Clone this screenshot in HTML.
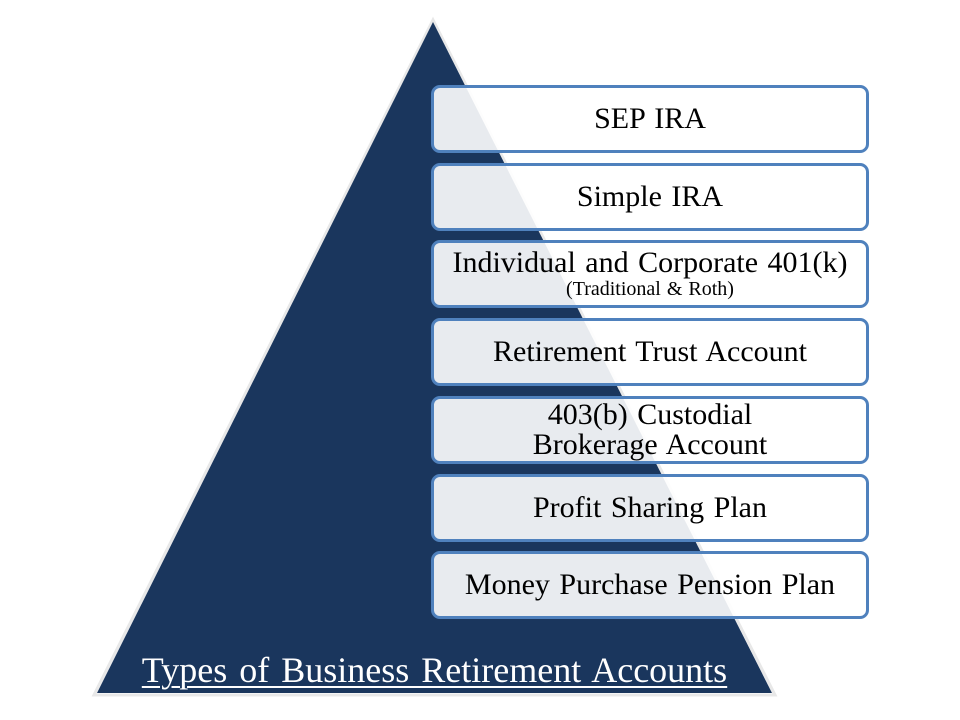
<!DOCTYPE html>
<html><head><style>
body{margin:0;background:#fff;width:960px;height:720px;overflow:hidden;position:relative;font-family:"Liberation Serif",serif}
.b{position:absolute;left:431px;width:438px;height:65px;border:3px solid #4f81bd;border-radius:9px;background:rgba(255,255,255,0.9);box-sizing:border-box;display:flex;flex-direction:column;align-items:center;justify-content:center;font-size:30px;color:#000;text-align:center;line-height:30px;word-spacing:2px}
.t{position:absolute;left:96px;width:677px;top:649px;text-align:center;color:#fff;font-size:36px;text-decoration:underline;text-decoration-thickness:2px;text-underline-offset:4px;word-spacing:3px}
</style></head><body>
<svg width="960" height="720" style="position:absolute;left:0;top:0">
<polygon points="433,20 94,695 775,695" fill="#fff" stroke="#e8e8e8" stroke-width="3"/>
<polygon points="433,22 97,693 772,693" fill="#1a365d"/>
</svg>
<div class="b" style="top:85px;height:68px">SEP IRA</div>
<div class="b" style="top:163px;height:68px">Simple IRA</div>
<div class="b" style="top:240px;height:68px">Individual and Corporate 401(k)<span style="font-size:20px;line-height:22px;word-spacing:1px">(Traditional &amp; Roth)</span></div>
<div class="b" style="top:318px;height:68px">Retirement Trust Account</div>
<div class="b" style="top:396px;height:68px">403(b) Custodial<br>Brokerage Account</div>
<div class="b" style="top:474px;height:68px">Profit Sharing Plan</div>
<div class="b" style="top:551px;height:68px">Money Purchase Pension Plan</div>
<div class="t">Types of Business Retirement Accounts</div>
</body></html>
